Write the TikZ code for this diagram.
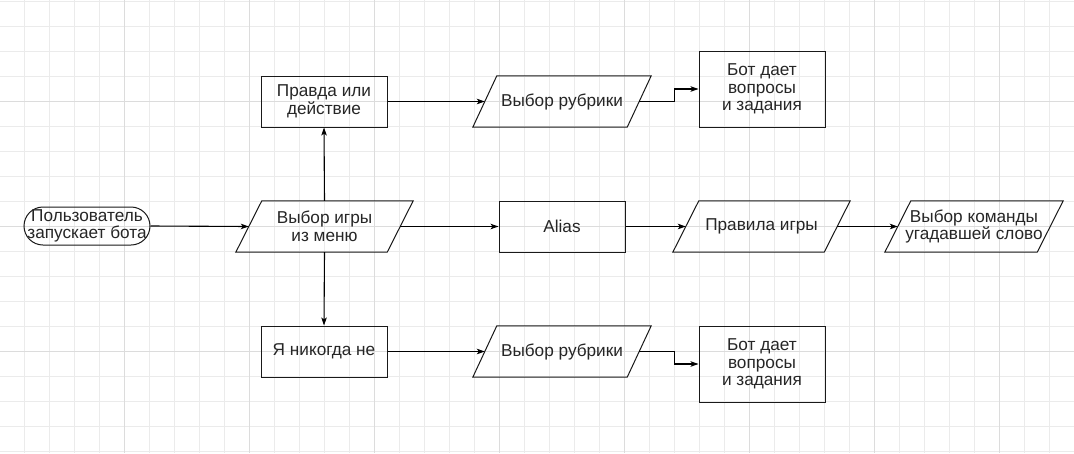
\documentclass[tikz,border=0pt]{standalone}
\usepackage{fontspec}
\setmainfont{Liberation Sans}
\usetikzlibrary{arrows.meta,calc}
\definecolor{gridminor}{HTML}{EBEBEB}
\definecolor{gridmajor}{HTML}{DCDCDC}
\newcommand\drawpara[2]{\draw[shapeline] ([xshift=#2]#1.north west) -- (#1.north east) -- ([xshift=-#2]#1.south east) -- (#1.south west) -- cycle;}
\begin{document}
\begin{tikzpicture}[x=1pt,y=-1pt,
  txt/.style={font=\fontsize{17.2}{17.5}\selectfont, align=center, inner sep=0pt, text=black!85},
  shapeline/.style={line width=1pt, draw=black!90},
  box/.style={txt, shapeline, draw, minimum width=126pt, minimum height=51pt},
  tallbox/.style={box, minimum height=76pt},
  para/.style={txt, minimum width=177pt, minimum height=51pt},
  term/.style={txt, shapeline, draw, rounded corners=19pt, minimum width=126pt, minimum height=38pt},
  arr/.style={-{Stealth[length=8pt,width=5.5pt,inset=2pt]}, line width=1.1pt, draw=black}]
\fill[white] (0,0) rectangle (1074,453);
\useasboundingbox (0,0) rectangle (1074,453);
% grid
\foreach \i in {1,...,43} {\draw[gridminor, line width=0.9pt] ({-1+25*\i},0) -- ({-1+25*\i},453);}
\foreach \j in {0,...,18} {\draw[gridminor, line width=0.9pt] (0,{1+25*\j}) -- (1074,{1+25*\j});}
\foreach \i in {1,...,8} {\draw[gridmajor, line width=0.9pt] ({-1+125*\i},0) -- ({-1+125*\i},453);}
\foreach \j in {101,226,351} {\draw[gridmajor, line width=0.9pt] (0,\j) -- (1074,\j);}
% nodes
\node[term] (start) at (87,226) {Пользователь\\запускает бота};
\node[para] (menu) at (324.5,226.5) {Выбор игры\\из меню};
\drawpara{menu}{26}
\node[box] (truth) at (324,101.5) {Правда или\\действие};
\node[box] (never) at (324,351.5) {Я никогда не};
\node[para, minimum width=178pt] (rub1) at (562,101.5) {Выбор рубрики};
\drawpara{rub1}{24}
\node[para, minimum width=178pt] (rub2) at (562,351.5) {Выбор рубрики};
\drawpara{rub2}{24}
\node[tallbox] (bot1) at (762,89) {Бот дает\\вопросы\\ и задания};
\node[tallbox] (bot2) at (762,364) {Бот дает\\вопросы\\ и задания};
\node[box] (alias) at (562,226.5) {Alias};
\node[para] (rules) at (761.5,226.5) {Правила игры};
\drawpara{rules}{26}
\node[para, minimum width=178pt] (team) at (974,226.5) {Выбор команды\\угадавшей слово};
\drawpara{team}{26}
% connectors
\draw[arr] (start.east) -- ([xshift=13pt]menu.west);
\draw[arr] (menu.north) -- (truth.south);
\draw[arr] (menu.south) -- (never.north);
\draw[arr] (truth.east) -- ([xshift=12pt]rub1.west);
\draw[arr] (never.east) -- ([xshift=12pt]rub2.west);
\draw[arr] ([xshift=-12pt]rub1.east) -- ++(35,0) |- (bot1.west);
\draw[arr] ([xshift=-12pt]rub2.east) -- ++(35,0) |- (bot2.west);
\draw[arr] ([xshift=-13pt]menu.east) -- (alias.west);
\draw[arr] (alias.east) -- ([xshift=13pt]rules.west);
\draw[arr] ([xshift=-13pt]rules.east) -- ([xshift=13pt]team.west);
\end{tikzpicture}
\end{document}
